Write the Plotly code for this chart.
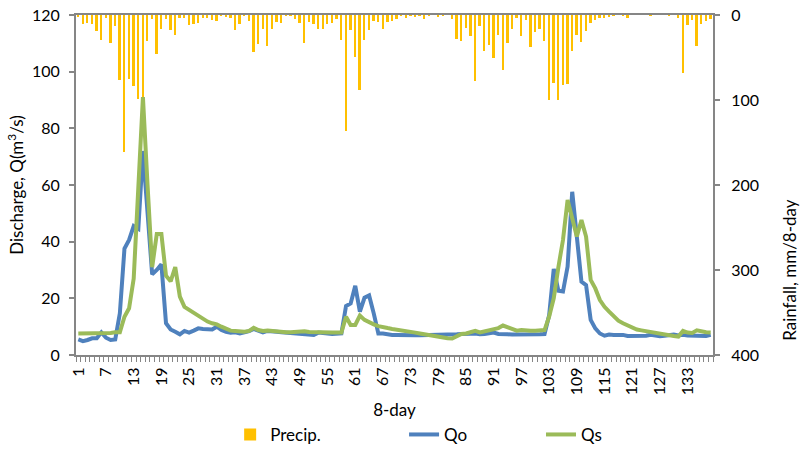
import plotly.graph_objects as go

periods = list(range(1, 139))

precip = [2, 10, 9, 11, 19, 29, 3, 33, 13, 76, 161, 75, 83, 99, 97, 31, 5, 46, 16, 5,
          18, 24, 3.5, 3, 12, 10, 9, 3.5, 3, 6, 7, 1, 2, 3, 18, 11, 1, 7, 43, 34,
          16, 37, 16, 8, 9, 0.5, 0.5, 5, 9, 33, 8, 10, 17, 17, 11, 9, 5, 29, 136, 18,
          49, 88, 29, 18, 7, 8, 17, 8, 7, 5, 1, 3, 1, 2, 1, 5, 0.5, 0, 2, 0.5,
          0, 5, 28, 31, 15, 25, 78, 13, 42, 35, 51, 24, 65, 33, 16, 3.5, 25, 6, 38, 20,
          17, 30, 100, 80, 100, 82, 81, 42, 24, 32, 19, 9, 5.5, 3.5, 3, 2.5, 1, 0, 0.5, 3,
          0, 0, 0, 0, 0.5, 0, 0, 0, 1, 0, 3.5, 68, 12, 5.5, 36, 11, 7, 5]

qo = [5.5, 4.9, 5.3, 5.9, 5.9, 8, 6.1, 5.3, 5.5, 14.7, 37.6, 40.6, 45.5, 44.5, 72, 50, 28.5, 30, 32, 11.2,
      9, 8.2, 7.3, 8.5, 7.9, 8.6, 9.4, 9.2, 9.2, 9, 10, 8.8, 8.2, 7.9, 8, 7.6, 8, 8.4, 9.2, 8.6,
      8, 8.5, 8.5, 8.2, 8, 7.9, 7.6, 7.6, 7.6, 7.4, 7.1, 7.1, 7.9, 7.6, 7.6, 7.4, 7.4, 7.6, 17.3, 18.2,
      24.4, 15.3, 20.2, 21, 14.7, 7.6, 7.6, 7.3, 7.1, 7.1, 7.0, 7.0, 7.0, 7.0, 7.0, 7.0, 7.0, 7.0, 7.0, 7.2,
      7.3, 7.2, 7.3, 7.4, 7.3, 7.5, 7.6, 7.3, 7.4, 7.6, 7.9, 7.4, 7.2, 7.3, 7.2, 7.2, 7.1, 7.0, 7.0, 7.2,
      7.3, 7.4, 14, 30.4, 22.7, 22.4, 31.2, 57.6, 41.8, 25.9, 24.7, 12.4, 9.4, 7.6, 6.8, 7.2, 7.1, 7.2, 7.1, 6.7,
      6.7, 6.7, 6.8, 6.8, 7.1, 6.8, 6.6, 6.8, 7.1, 7.2, 6.9, 7.1, 6.9, 6.9, 6.7, 6.8, 6.7, 7.1]

qs = [7.6, 7.6, 7.6, 7.6, 7.6, 7.7, 7.7, 7.8, 8, 8, 13.5, 16.5, 27, 60, 91, 60, 31, 42.7, 42.7, 28,
      26, 31, 20.6, 17, 15.9, 14.7, 13.9, 12.9, 11.8, 11.2, 10.8, 10, 9.2, 8.6, 8.5, 8.4, 8.2, 8.5, 9.6, 8.8,
      8.5, 8.6, 8.4, 8.3, 8.1, 8, 8, 8.1, 8.3, 8.4, 8.1, 8, 8, 8, 7.9, 7.9, 7.9, 7.9, 13.5, 10.6,
      10.6, 13.9, 12.4, 11.4, 10.8, 10.2, 10, 9.5, 9.2, 9, 8.7, 8.4, 8.1, 7.9, 7.6, 7.3, 6.9, 6.7, 6.5, 6.2,
      5.9, 5.8, 6.7, 7.4, 7.6, 7.9, 8.5, 8, 8.4, 8.8, 9.3, 9.5, 10.4, 9.8, 9.2, 8.6, 8.8, 8.6, 8.6, 8.6,
      8.6, 8.8, 13.5, 20, 31, 40.6, 54.7, 47.6, 41.8, 47.6, 41.8, 26.5, 23.5, 19.4, 17, 15.3, 13.5, 12.1, 11.2, 10.4,
      9.6, 9, 8.7, 8.4, 8, 7.6, 7.4, 7.2, 6.9, 6.7, 6.5, 8.5, 7.9, 7.8, 8.7, 8.2, 8, 7.9]

tick_labels = list(range(1, 139, 6))

FONT = "Lato, 'Open Sans', sans-serif"
AXIS_GRAY = "#868686"

fig = go.Figure()
fig.add_trace(go.Bar(x=periods, y=precip, name="Precip.", marker_color="#FFC000",
                     marker_line_width=0, width=0.4, yaxis="y", legend="legend",
                     showlegend=True))
fig.add_trace(go.Scatter(x=periods, y=qo, name="Qo", mode="lines",
                         line=dict(color="#4F81BD", width=4), yaxis="y2", legend="legend2",
                         showlegend=True))
fig.add_trace(go.Scatter(x=periods, y=qs, name="Qs", mode="lines",
                         line=dict(color="#9BBB59", width=4), yaxis="y2", legend="legend3",
                         showlegend=True))

fig.update_layout(
    width=804, height=456,
    showlegend=True,
    margin=dict(l=76, r=91, t=15, b=101, autoexpand=False),
    plot_bgcolor="white", paper_bgcolor="white",
    font=dict(family=FONT, size=16, color="#000000"),
    bargap=0,
    xaxis=dict(
        range=[0.5, 138.5], tickmode="array", tickvals=tick_labels,
        ticktext=[str(v) for v in tick_labels], tickangle=-90, ticks="",
        showline=True, linecolor=AXIS_GRAY, linewidth=2, mirror=True,
        showgrid=False, zeroline=False, automargin=False,
        tickfont=dict(size=16), ticklabelstandoff=4,
        minor=dict(ticks="outside", tick0=0.5, dtick=1, ticklen=5,
                   tickcolor=AXIS_GRAY, tickwidth=1, showgrid=False),
        title=dict(text="8-day", font=dict(size=17), standoff=10),
    ),
    yaxis=dict(
        range=[400, 0], tickvals=[0, 100, 200, 300, 400], side="right",
        showline=True, linecolor=AXIS_GRAY, linewidth=2, ticks="outside",
        ticklen=5, tickcolor=AXIS_GRAY, tickwidth=2, showgrid=False, zeroline=False,
        automargin=False, tickfont=dict(size=16), ticklabelstandoff=8,
    ),
    yaxis2=dict(
        range=[0, 120], dtick=20, side="left", overlaying="y",
        showline=True, linecolor=AXIS_GRAY, linewidth=2, ticks="outside",
        ticklen=5, tickcolor=AXIS_GRAY, tickwidth=2, showgrid=False, zeroline=False,
        automargin=False, tickfont=dict(size=16), ticklabelstandoff=6,
        title=dict(text="Discharge, Q(m<sup>3</sup>/s)", font=dict(size=17), standoff=4),
    ),
    legend=dict(orientation="h", x=0.242, y=-0.235, xanchor="left", yanchor="middle",
                font=dict(size=17), bgcolor="rgba(0,0,0,0)"),
    legend2=dict(orientation="h", x=0.515, y=-0.235, xanchor="left", yanchor="middle",
                 font=dict(size=17), bgcolor="rgba(0,0,0,0)"),
    legend3=dict(orientation="h", x=0.73, y=-0.235, xanchor="left", yanchor="middle",
                 font=dict(size=17), bgcolor="rgba(0,0,0,0)"),
    annotations=[dict(text="Rainfall, mm/8-day", textangle=-90, xref="paper", yref="paper",
                      x=1.119, y=0.25, showarrow=False, font=dict(size=17),
                      xanchor="center", yanchor="middle")],
)

fig.write_html("out.html")
